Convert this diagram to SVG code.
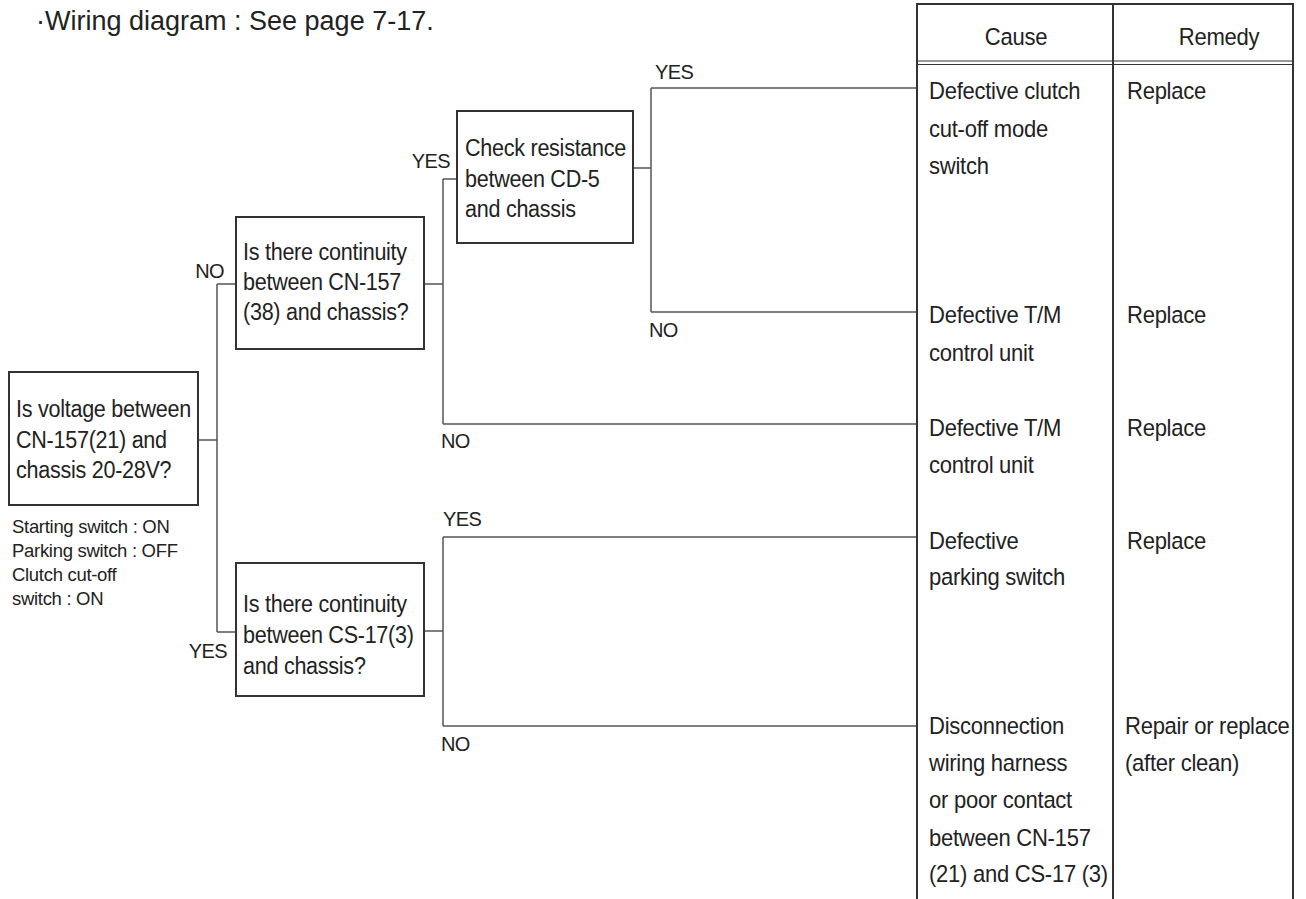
<svg xmlns="http://www.w3.org/2000/svg" width="1306" height="899" viewBox="0 0 1306 899">
<style>
text{font-family:"Liberation Sans",Arial,sans-serif;fill:#222;}
.box{fill:#fff;stroke:#333;stroke-width:2;}
.bt{font-size:24.5px;letter-spacing:-0.3px;}
.tt{font-size:24.5px;letter-spacing:-0.3px;}
.lbl{font-size:20px;letter-spacing:-0.6px;}
.note{font-size:18.5px;letter-spacing:-0.3px;}
.title{font-size:27px;}
.con{fill:none;stroke:#555;stroke-width:1.5;}
.tbl{fill:none;stroke:#333;stroke-width:2;}
</style>
<rect width="1306" height="899" fill="#fff"/>
<text class="title" x="36" y="30">·Wiring diagram : See page 7-17.</text>

<g id="connectors">
<path class="con" d="M198 440H217M217 284V632M217 284H236M217 632H236"/>
<path class="con" d="M424 284H443M443 179V424M443 179H457M443 424H917"/>
<path class="con" d="M633 168H651M651 88V312M651 88H917M651 312H917"/>
<path class="con" d="M424 631H443M443 537V726M443 537H917M443 726H917"/>
<text class="lbl" x="224" y="278" text-anchor="end">NO</text>
<text class="lbl" x="227" y="658" text-anchor="end">YES</text>
<text class="lbl" x="450" y="168" text-anchor="end">YES</text>
<text class="lbl" x="655" y="79">YES</text>
<text class="lbl" x="649" y="337">NO</text>
<text class="lbl" x="441" y="448">NO</text>
<text class="lbl" x="443" y="526">YES</text>
<text class="lbl" x="441" y="751">NO</text>
</g>

<g id="q1">
<rect class="box" x="9" y="372" width="189" height="133"/>
<text class="bt" transform="translate(16 0) scale(0.88 1)"><tspan x="0" y="417">Is voltage between</tspan><tspan x="0" y="448">CN-157(21) and</tspan><tspan x="0" y="478">chassis 20-28V?</tspan></text>
</g>
<g id="conditions">
<text class="note"><tspan x="12" y="533">Starting switch : ON</tspan><tspan x="12" y="557">Parking switch : OFF</tspan><tspan x="12" y="581">Clutch cut-off</tspan><tspan x="12" y="605">switch : ON</tspan></text>
</g>
<g id="q2">
<rect class="box" x="236" y="217" width="188" height="132"/>
<text class="bt" transform="translate(243 0) scale(0.88 1)"><tspan x="0" y="260">Is there continuity</tspan><tspan x="0" y="290">between CN-157</tspan><tspan x="0" y="320">(38) and chassis?</tspan></text>
</g>
<g id="q3">
<rect class="box" x="457" y="111" width="176" height="132"/>
<text class="bt" transform="translate(465 0) scale(0.88 1)"><tspan x="0" y="156">Check resistance</tspan><tspan x="0" y="187">between CD-5</tspan><tspan x="0" y="217">and chassis</tspan></text>
</g>
<g id="q4">
<rect class="box" x="236" y="563" width="188" height="133"/>
<text class="bt" transform="translate(243 0) scale(0.88 1)"><tspan x="0" y="612">Is there continuity</tspan><tspan x="0" y="643">between CS-17(3)</tspan><tspan x="0" y="674">and chassis?</tspan></text>
</g>

<g id="table">
<path class="tbl" d="M917 899V4H1293V899M1113 4V899"/>
<path fill="none" stroke="#333" stroke-width="1.2" d="M917 61H1293M917 64.5H1293"/>
<text class="tt" transform="translate(1016 0) scale(0.9 1)" x="0" y="45" text-anchor="middle">Cause</text>
<text class="tt" transform="translate(1219 0) scale(0.9 1)" x="0" y="45" text-anchor="middle">Remedy</text>
</g>
<g id="r1">
<text class="tt" transform="translate(929 0) scale(0.9 1)"><tspan x="0" y="99">Defective clutch</tspan><tspan x="0" y="137">cut-off mode</tspan><tspan x="0" y="174">switch</tspan></text>
<text class="tt" transform="translate(1127 0) scale(0.9 1)" x="0" y="99">Replace</text>
</g>
<g id="r2">
<text class="tt" transform="translate(929 0) scale(0.9 1)"><tspan x="0" y="323">Defective T/M</tspan><tspan x="0" y="361">control unit</tspan></text>
<text class="tt" transform="translate(1127 0) scale(0.9 1)" x="0" y="323">Replace</text>
</g>
<g id="r3">
<text class="tt" transform="translate(929 0) scale(0.9 1)"><tspan x="0" y="436">Defective T/M</tspan><tspan x="0" y="473">control unit</tspan></text>
<text class="tt" transform="translate(1127 0) scale(0.9 1)" x="0" y="436">Replace</text>
</g>
<g id="r4">
<text class="tt" transform="translate(929 0) scale(0.9 1)"><tspan x="0" y="549">Defective</tspan><tspan x="0" y="585">parking switch</tspan></text>
<text class="tt" transform="translate(1127 0) scale(0.9 1)" x="0" y="549">Replace</text>
</g>
<g id="r5">
<text class="tt" transform="translate(929 0) scale(0.9 1)"><tspan x="0" y="734">Disconnection</tspan><tspan x="0" y="771">wiring harness</tspan><tspan x="0" y="808">or poor contact</tspan><tspan x="0" y="846">between CN-157</tspan><tspan x="0" y="882">(21) and CS-17 (3)</tspan></text>
<text class="tt" transform="translate(1125 0) scale(0.9 1)"><tspan x="0" y="734">Repair or replace</tspan><tspan x="0" y="771">(after clean)</tspan></text>
</g>
</svg>
